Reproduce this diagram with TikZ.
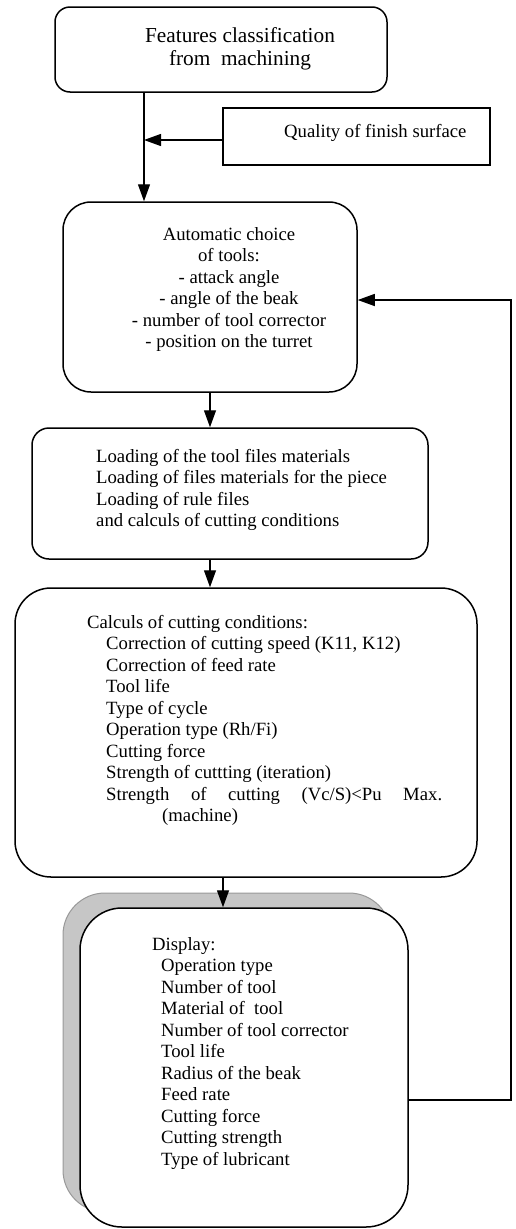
\documentclass[tikz,border=0pt]{standalone}
\usepackage{fontspec}
\setmainfont{Liberation Serif}
\usetikzlibrary{arrows.meta}

\tikzset{
  rbox/.style={draw, line width=1.5pt, fill=white, inner sep=0pt},
  shadowbox/.style={draw=gray!80, fill=gray!45, line width=1pt, inner sep=0pt},
  txt/.style={inner sep=0pt, align=left, font=\fontsize{18.7}{21.5}\selectfont},
  arr/.style={line width=1.3pt, -{Triangle[length=17pt,width=12pt]}},
}

\begin{document}
\begin{tikzpicture}[x=1pt,y=-1pt]
	\useasboundingbox (0,0) rectangle (515,1229);

	% boxes
	\node[rbox, minimum width=332pt, minimum height=85pt, rounded corners=15pt] (feat) at (221,49.5) {};
	\node[txt, align=center, anchor=north, font=\fontsize{21.3}{23}\selectfont] (featText) at (240,25.9) {\strut Features classification\\from\ \ machining};

	\node[rbox, minimum width=267pt, minimum height=57pt] (qual) at (356.5,136.5) {};
	\node[txt, anchor=north west] (qualText) at (284,122) {\strut Quality of finish surface};

	\node[rbox, minimum width=294pt, minimum height=190pt, rounded corners=28pt] (auto) at (210,297) {};
	\node[txt, align=center, anchor=north] (autoText) at (229,225) {\strut Automatic choice\\of tools:\\- attack angle\\- angle of the beak\\- number of tool corrector\\- position on the turret};

	\node[rbox, minimum width=396pt, minimum height=131pt, rounded corners=17pt] (load) at (230,493.5) {};
	\node[txt, anchor=north west] (loadText) at (96,447) {\strut Loading of the tool files materials\\Loading of files materials for the piece\\Loading of rule files\\and calculs of cutting conditions};

	\node[rbox, minimum width=462pt, minimum height=289pt, rounded corners=36pt] (calc) at (246,732.5) {};
	\node[txt, anchor=north west] (calcText) at (87,613) {\strut Calculs of cutting conditions:\\
		\hspace*{19pt}Correction of cutting speed (K11, K12)\\
		\hspace*{19pt}Correction of feed rate\\
		\hspace*{19pt}Tool life\\
		\hspace*{19pt}Type of cycle\\
		\hspace*{19pt}Operation type (Rh/Fi)\\
		\hspace*{19pt}Cutting force\\
		\hspace*{19pt}Strength of cuttting (iteration)\\
		\hspace*{19pt}\makebox[336pt][s]{Strength of cutting (Vc/S)<Pu Max.}\\
		\hspace*{75pt}(machine)};

	% display box with its shadow
	\node[shadowbox, minimum width=328pt, minimum height=319pt, rounded corners=42pt] (dispShadow) at (227,1052.5) {};
	\node[rbox, minimum width=328pt, minimum height=319pt, rounded corners=42pt] (disp) at (244,1067.5) {};
	\node[txt, anchor=north west] (dispText) at (152,935) {\strut Display:\\
		\hspace*{9pt}Operation type\\
		\hspace*{9pt}Number of tool\\
		\hspace*{9pt}Material of\ \ tool\\
		\hspace*{9pt}Number of tool corrector\\
		\hspace*{9pt}Tool life\\
		\hspace*{9pt}Radius of the beak\\
		\hspace*{9pt}Feed rate\\
		\hspace*{9pt}Cutting force\\
		\hspace*{9pt}Cutting strength\\
		\hspace*{9pt}Type of lubricant};

	% connectors
	\coordinate (join) at (144,140);
	\draw[arr] (feat.south -| join) -- (auto.north -| join);
	\draw[arr] (qual.west |- join) -- (join);
	\draw[arr] (auto.south) -- (auto.south |- load.north);
	\draw[arr] (load.south -| auto.south) -- (calc.north -| auto.south);
	\draw[arr] (calc.south -| 223,0) -- (disp.north -| 223,0);

	% feedback loop
	\coordinate (fbBottom) at (511,1100);
	\coordinate (fbTop) at (511,300);
	\draw[arr] (disp.east |- fbBottom) -- (fbBottom) -- (fbTop) -- (auto.east |- fbTop);
\end{tikzpicture}
\end{document}
